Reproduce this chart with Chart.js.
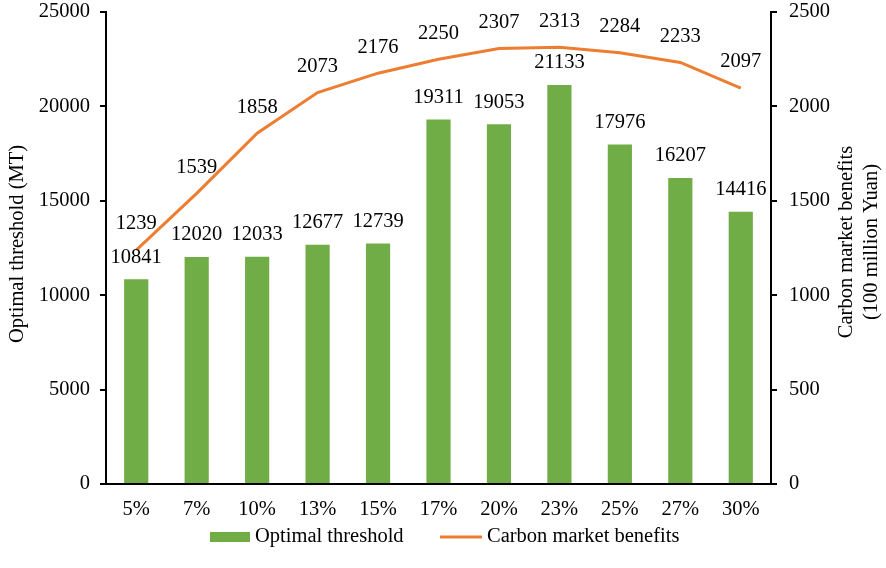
<!DOCTYPE html>
<html>
<head>
<meta charset="utf-8">
<script src="https://cdn.jsdelivr.net/npm/chart.js@4.4.1/dist/chart.umd.min.js"></script>
<style>
  body { margin: 0; background: #fff; }
  #wrap { width: 886px; height: 568px; }
</style>
</head>
<body>
<div id="wrap"><canvas id="myChart"></canvas></div>
<script>
const categories = ['5%', '7%', '10%', '13%', '15%', '17%', '20%', '23%', '25%', '27%', '30%'];
const thresholdValues = [10841, 12020, 12033, 12677, 12739, 19311, 19053, 21133, 17976, 16207, 14416];
const benefitValues = [1239, 1539, 1858, 2073, 2176, 2250, 2307, 2313, 2284, 2233, 2097];
const leftTicks = [0, 5000, 10000, 15000, 20000, 25000];
const rightTicks = [0, 500, 1000, 1500, 2000, 2500];

const FONT = "'Liberation Serif', 'Times New Roman', serif";
Chart.defaults.font.family = FONT;
Chart.defaults.font.size = 20.5;
Chart.defaults.color = '#000';

// value labels, axis titles and the legend
const labelPlugin = {
  id: 'labelPlugin',
  afterDatasetsDraw(chart) {
    const ctx = chart.ctx;
    const dsets = chart.data.datasets;
    ctx.save();
    ctx.font = '20.5px ' + FONT;
    ctx.fillStyle = '#000';
    ctx.textAlign = 'center';
    ctx.textBaseline = 'middle';
    dsets.forEach((ds, i) => {
      const meta = chart.getDatasetMeta(i);
      const off = ds.type === 'line' ? 26 : 22;
      meta.data.forEach((el, j) => {
        ctx.fillText(String(ds.data[j]), el.x, el.y - off);
      });
    });

    const area = chart.chartArea;
    const midY = (area.top + area.bottom) / 2;
    ctx.save();
    ctx.translate(18, midY - 4);
    ctx.rotate(-Math.PI / 2);
    ctx.fillText('Optimal threshold (MT)', 0, 0);
    ctx.restore();

    ctx.save();
    ctx.translate(847, midY - 6);
    ctx.rotate(-Math.PI / 2);
    ctx.fillText('Carbon market benefits', 0, 0);
    ctx.fillText('(100 million Yuan)', 0, 25);
    ctx.restore();

    // legend
    const bar = dsets[1], line = dsets[0];
    const ly = 537;
    ctx.textAlign = 'left';
    ctx.fillStyle = bar.backgroundColor;
    ctx.fillRect(210, ly - 5, 40, 10);
    ctx.fillStyle = '#000';
    ctx.fillText(bar.label, 255, ly);
    ctx.strokeStyle = line.borderColor;
    ctx.lineWidth = 3;
    ctx.beginPath();
    ctx.moveTo(440, ly);
    ctx.lineTo(482, ly);
    ctx.stroke();
    ctx.fillText(line.label, 487, ly);
    ctx.restore();
  }
};

const data = {
  labels: categories,
  datasets: [
    {
      type: 'line',
      label: 'Carbon market benefits',
      data: benefitValues,
      yAxisID: 'y1',
      borderColor: '#ED7D31',
      backgroundColor: '#ED7D31',
      borderWidth: 3,
      pointRadius: 0,
      tension: 0,
      order: 1
    },
    {
      type: 'bar',
      label: 'Optimal threshold',
      data: thresholdValues,
      yAxisID: 'y',
      backgroundColor: '#70AD47',
      borderWidth: 0,
      categoryPercentage: 1,
      barPercentage: 0.4,
      order: 2
    }
  ]
};

const fixPad = (s) => { s.paddingTop = 12; s.paddingBottom = 0; };

const config = {
  data,
  options: {
    responsive: true,
    maintainAspectRatio: false,
    animation: false,
    layout: { padding: 0 },
    plugins: {
      tooltip: { enabled: false },
      legend: { display: false }
    },
    scales: {
      x: {
        grid: { display: false },
        border: { color: '#000', width: 2 },
        ticks: { padding: 5 },
        afterFit: (s) => { s.height = 84; }
      },
      y: {
        position: 'left',
        min: leftTicks[0],
        max: leftTicks[leftTicks.length - 1],
        afterBuildTicks: (s) => { s.ticks = leftTicks.map(v => ({ value: v })); },
        afterFit: (s) => { s.width = 106; fixPad(s); },
        grid: { drawOnChartArea: false, tickLength: 6, color: '#000', lineWidth: 2 },
        border: { color: '#000', width: 2 },
        ticks: { padding: 10, callback: (v) => String(v) }
      },
      y1: {
        position: 'right',
        min: rightTicks[0],
        max: rightTicks[rightTicks.length - 1],
        afterBuildTicks: (s) => { s.ticks = rightTicks.map(v => ({ value: v })); },
        afterFit: (s) => { s.width = 115; fixPad(s); },
        grid: { drawOnChartArea: false, tickLength: 6, color: '#000', lineWidth: 2 },
        border: { color: '#000', width: 2 },
        ticks: { padding: 12, callback: (v) => String(v) }
      }
    }
  },
  plugins: [labelPlugin]
};

const myChart = new Chart(document.getElementById('myChart'), config);
</script>
</body>
</html>
